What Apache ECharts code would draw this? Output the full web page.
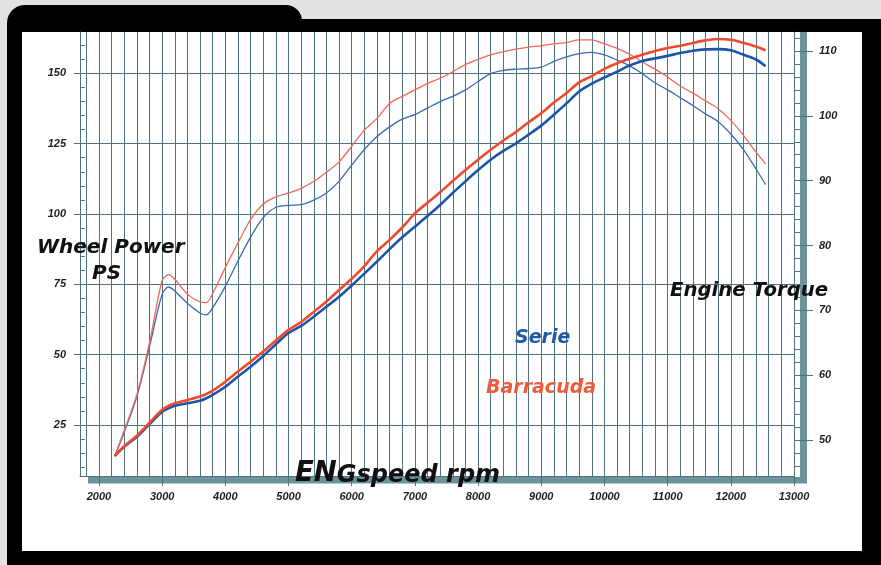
<!DOCTYPE html>
<html><head><meta charset="utf-8">
<script src="https://cdn.jsdelivr.net/npm/echarts@6/dist/echarts.min.js"></script>
<style>html,body{margin:0;padding:0;background:#e2e2e2;} #c{width:881px;height:565px;}</style>
</head><body><div id="c"></div>
<script>
// ---- data ----
const rpm = [2250,2400,2600,2800,3000,3100,3200,3400,3600,3700,3800,4000,4200,4400,4600,4800,5000,5200,5400,5600,5800,6000,6200,6400,6600,6800,7000,7200,7400,7600,7800,8000,8200,8400,8600,8800,9000,9200,9400,9600,9800,10000,10200,10400,10600,10800,11000,11200,11400,11600,11800,12000,12200,12400,12550];
const seriePower = [14,17.3,20.8,25.3,29.7,30.9,31.8,32.7,33.6,34.5,35.7,38.6,42.2,45.7,49.5,53.7,57.7,60.2,63.5,67,70.6,74.6,78.8,83.1,87.5,91.7,95.5,99.3,103.2,107.5,111.6,115.6,119.3,122.4,125.1,128.2,131.4,135.3,139.3,143.5,146.3,148.5,150.6,152.8,154.4,155.3,156.2,157.2,158,158.5,158.6,158.2,156.6,154.9,152.5];
const barracudaPower = [14,17.5,21.2,25.8,30.4,31.8,32.7,33.9,35.1,36,37.2,40.4,44,47.5,51.1,55,58.8,61.6,65.2,68.9,73,77,81.5,86.8,90.8,95.2,100.2,104,107.7,111.7,115.6,119.3,122.8,126.1,129.2,132.6,135.8,139.6,143,146.8,149,151.6,153.6,155.2,156.6,157.9,159,159.8,160.8,161.7,162.2,161.9,160.8,159.5,158.1];
const serieTorque = [47.5,51.2,56.7,64.4,72.5,73.6,73,71.1,69.6,69.3,70.4,73.7,77.6,81.3,84.3,85.9,86.2,86.3,87,88.1,89.9,92.4,94.8,96.8,98.3,99.5,100.2,101.2,102.2,103,104,105.3,106.5,107,107.2,107.3,107.5,108.4,109.1,109.6,109.8,109.4,108.6,107.7,106.5,105.1,104,102.8,101.6,100.3,99.1,97.2,94.8,91.8,89.4];
const barracudaTorque = [47.5,51.5,57,65,74.6,75.5,74.8,72.5,71.3,71.2,72.6,76.6,80.4,84,86.4,87.5,88.1,88.8,89.9,91.3,92.9,95.3,97.8,99.6,101.9,103,104,105,105.8,106.8,107.9,108.7,109.4,109.9,110.3,110.6,110.8,111.1,111.3,111.7,111.7,111.1,110.4,109.5,108.3,107.2,106,104.6,103.5,102.3,101.1,99.3,97,94.4,92.6];

const rpmLabels = [2000,3000,4000,5000,6000,7000,8000,9000,10000,11000,12000,13000];
const psLabels = [25,50,75,100,125,150];
const nmLabels = [50,60,70,80,90,100,110];

function range(a,b,s){const r=[];for(let v=a;v<=b+1e-9;v+=s)r.push(v);return r;}
const rpmGrid = range(1800,13000,200);
const psMinor = range(10,160,5);
const nmMinor = range(46,112,2);

const GRID = '#4e757b';
const TEAL = '#6b9399';
const labelFont = {fontFamily:'Liberation Sans', fontStyle:'italic', fontWeight:'bold', fontSize:11, color:'#1e1e1e', formatter:(v)=>String(v)};
const PSMIN = 6.87, PSMAX = 164.68, NMMIN = 44.45, NMMAX = 112.93;

const chart = echarts.init(document.getElementById('c'));
chart.setOption({
  animation:false,
  grid:{left:80, top:32, width:714, height:444, containLabel:false},
  xAxis:[
    {type:'value', min:1700, max:13000, position:'bottom',
     axisLine:{show:true, onZero:false, lineStyle:{color:GRID, width:1}},
     axisTick:{show:false, customValues:rpmGrid},
     axisLabel:{show:false},
     splitLine:{show:true, lineStyle:{color:GRID, width:1}}},
    {type:'value', min:1700, max:13000, position:'bottom',
     axisLine:{show:false, onZero:false},
     axisTick:{show:true, customValues:rpmLabels, length:10, lineStyle:{color:GRID}},
     axisLabel:Object.assign({customValues:rpmLabels, margin:15}, labelFont),
     splitLine:{show:false}}
  ],
  yAxis:[
    {type:'value', min:PSMIN, max:PSMAX, position:'left',
     axisLine:{show:true, onZero:false, lineStyle:{color:GRID}},
     axisTick:{show:true, customValues:psLabels, length:6, lineStyle:{color:GRID}},
     axisLabel:Object.assign({customValues:psLabels, margin:14}, labelFont),
     splitLine:{show:true, lineStyle:{color:GRID, width:1}}},
    {type:'value', min:PSMIN, max:PSMAX, position:'left',
     axisLine:{show:false, onZero:false},
     axisTick:{show:true, inside:true, customValues:psMinor, length:5, lineStyle:{color:GRID}},
     axisLabel:{show:false}, splitLine:{show:false}},
    {type:'value', min:NMMIN, max:NMMAX, position:'right',
     axisLine:{show:true, onZero:false, lineStyle:{color:GRID}},
     axisTick:{show:true, customValues:nmLabels, length:19, lineStyle:{color:GRID}},
     axisLabel:Object.assign({customValues:nmLabels, margin:25}, labelFont),
     splitLine:{show:false}},
    {type:'value', min:NMMIN, max:NMMAX, position:'right',
     axisLine:{show:false, onZero:false},
     axisTick:{show:true, customValues:nmMinor, length:6, lineStyle:{color:GRID}},
     axisLabel:{show:false}, splitLine:{show:false}}
  ],
  graphic:[
    {type:'rect', z:-20, shape:{x:7, y:19, width:880, height:560, r:[16,0,0,0]}, style:{fill:'#000'}},
    {type:'rect', z:-20, shape:{x:7, y:5, width:295, height:40, r:[18,16,0,0]}, style:{fill:'#000'}},
    {type:'rect', z:-19, shape:{x:22, y:32, width:840, height:519}, style:{fill:'#fff'}},
    {type:'rect', z:-18, shape:{x:800, y:32, width:7, height:451}, style:{fill:TEAL}},
    {type:'rect', z:-18, shape:{x:88, y:477, width:719, height:6.5}, style:{fill:TEAL}},
    {type:'text', z:50, style:{text:'Wheel Power', x:37, y:248, font:'italic bold 20px "DejaVu Sans"', fill:'#111', verticalAlign:'middle', textVerticalAlign:'middle'}},
    {type:'text', z:50, style:{text:'PS', x:92, y:274, font:'italic bold 20px "DejaVu Sans"', fill:'#111', verticalAlign:'middle', textVerticalAlign:'middle'}},
    {type:'text', z:50, style:{text:'Engine Torque', x:670, y:291, font:'italic bold 19.7px "DejaVu Sans"', fill:'#111', verticalAlign:'middle', textVerticalAlign:'middle'}},
    {type:'text', z:50, style:{text:'Serie', x:515, y:338, font:'italic bold 19px "DejaVu Sans"', fill:'#1f5aa8', verticalAlign:'middle', textVerticalAlign:'middle'}},
    {type:'text', z:50, style:{text:'Barracuda', x:486, y:388, font:'italic bold 19px "DejaVu Sans"', fill:'#ee5a3a', verticalAlign:'middle', textVerticalAlign:'middle'}},
    {type:'text', z:50, style:{text:'{a|EN}{b|Gspeed rpm}', x:295, y:474, verticalAlign:'middle', textVerticalAlign:'middle',
      rich:{a:{font:'italic bold 27.5px "DejaVu Sans"', fill:'#111', color:'#111', verticalAlign:'bottom'},
            b:{font:'italic bold 24px "DejaVu Sans"', fill:'#111', color:'#111', verticalAlign:'bottom'}}}}
  ],
  series:[
    {name:'Serie Torque', type:'line', xAxisIndex:0, yAxisIndex:2, symbol:'none', smooth:0.3,
     data:rpm.map((r,i)=>[r, serieTorque[i]]), lineStyle:{color:'#3d68b2', width:1.3}},
    {name:'Barracuda Torque', type:'line', xAxisIndex:0, yAxisIndex:2, symbol:'none', smooth:0.3,
     data:rpm.map((r,i)=>[r, barracudaTorque[i]]), lineStyle:{color:'#f0675a', width:1.3}},
    {name:'Serie Power', type:'line', xAxisIndex:0, yAxisIndex:0, symbol:'none', smooth:0.3,
     data:rpm.map((r,i)=>[r, seriePower[i]]), lineStyle:{color:'#1b55a7', width:2.6}},
    {name:'Barracuda Power', type:'line', xAxisIndex:0, yAxisIndex:0, symbol:'none', smooth:0.3,
     data:rpm.map((r,i)=>[r, barracudaPower[i]]), lineStyle:{color:'#ef4a30', width:2.6}}
  ]
});
</script></body></html>
